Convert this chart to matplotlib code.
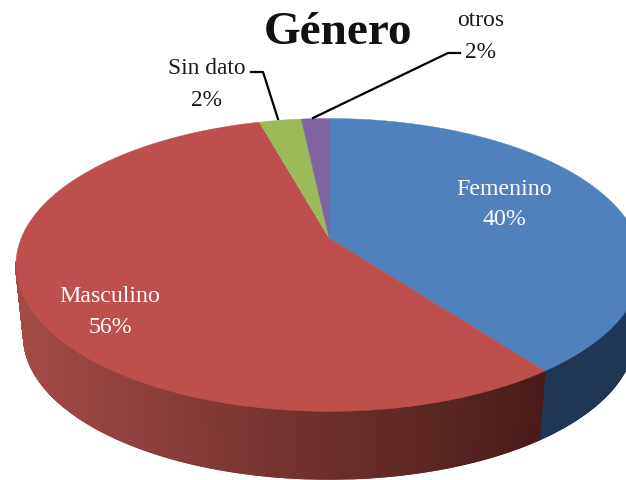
# Pie 3D de genero, dibujado con una proyeccion en perspectiva
import numpy as np
import matplotlib
matplotlib.use('Agg')
import matplotlib.pyplot as plt
from matplotlib.colors import LinearSegmentedColormap

# Datos
categorias = ['Femenino', 'Masculino', 'Sin dato', 'otros']
valores = [39.8, 55.9, 2.6, 1.7]
etiquetas = ['40%', '56%', '2%', '2%']

colores = ['#4f81bd', '#bd504d', '#9bbb59', '#8064a2']
colores_lado = [('#1d3350', '#1f3654'), ('#a34a47', '#4a1c19'),
                ('#6f8a3c', '#6f8a3c'), ('#5c4876', '#5c4876')]

plt.rcParams['font.family'] = ['Liberation Serif', 'DejaVu Serif']

CX, CY = 329, 239
A, B, K = 307.7, 141.5, 0.184
ALTO = 72
ESCALA = 0.975


def proyectar(theta, offset=0.0, escala=1.0):
    # theta en sentido horario desde arriba
    u = np.sin(theta)
    v = np.cos(theta)
    d = 1 + K * v
    return CX + escala * A * u / d, CY + offset - escala * B * v / d


fig = plt.figure(figsize=(6.26, 4.81), dpi=100)
ax = fig.add_axes([0, 0, 1, 1])
ax.set_xlim(0, 626)
ax.set_ylim(481, 0)
ax.axis('off')

cortes = np.cumsum([0] + valores) / sum(valores) * 2 * np.pi

# Lados del pastel, solo la parte de delante, en franjas para el degradado
for i in range(len(valores)):
    cmap = LinearSegmentedColormap.from_list('lado', colores_lado[i])
    t = np.linspace(cortes[i], cortes[i + 1], int(valores[i] * 25) + 2)
    t = t[np.cos(t) < -0.16]
    if len(t) < 2:
        continue
    x_top, y_top = proyectar(t)
    x_bot, y_bot = proyectar(t, ALTO, ESCALA)
    for j in range(len(t) - 1):
        c = cmap(np.clip((x_top[j] - 20) / 520, 0, 1))
        ax.fill([x_top[j], x_top[j + 1], x_bot[j + 1], x_bot[j]],
                [y_top[j], y_top[j + 1], y_bot[j + 1], y_bot[j]],
                color=c, lw=1.0, zorder=2)

# Cara superior
for i in range(len(valores)):
    t = np.linspace(cortes[i], cortes[i + 1], 200)
    x, y = proyectar(t)
    ax.fill(np.r_[CX, x], np.r_[CY, y], color=colores[i], lw=0.3, zorder=3)

# Titulo y etiquetas
ax.text(338, 33, 'Género', fontsize=34, fontweight='bold', ha='center', va='center', color='#111111')
ax.text(504, 190, categorias[0], fontsize=17.2, color='white', ha='center', va='center', zorder=5)
ax.text(504, 220, etiquetas[0], fontsize=17.2, color='white', ha='center', va='center', zorder=5)
ax.text(110, 297, categorias[1], fontsize=17.2, color='white', ha='center', va='center', zorder=5)
ax.text(110, 328, etiquetas[1], fontsize=17.2, color='white', ha='center', va='center', zorder=5)
ax.text(207, 69, categorias[2], fontsize=16.8, color='#1a1a1a', ha='center', va='center')
ax.text(207, 101, etiquetas[2], fontsize=16.8, color='#1a1a1a', ha='center', va='center')
ax.text(481, 20, categorias[3], fontsize=16.8, color='#1a1a1a', ha='center', va='center')
ax.text(481, 52, etiquetas[3], fontsize=16.8, color='#1a1a1a', ha='center', va='center')

# Lineas guia
ax.plot([251, 263, 278], [73, 73, 120], color='black', lw=1.6, zorder=4)
ax.plot([460, 448, 313], [54, 54, 119], color='black', lw=1.6, zorder=4)

fig.savefig('out.png', dpi=100)
